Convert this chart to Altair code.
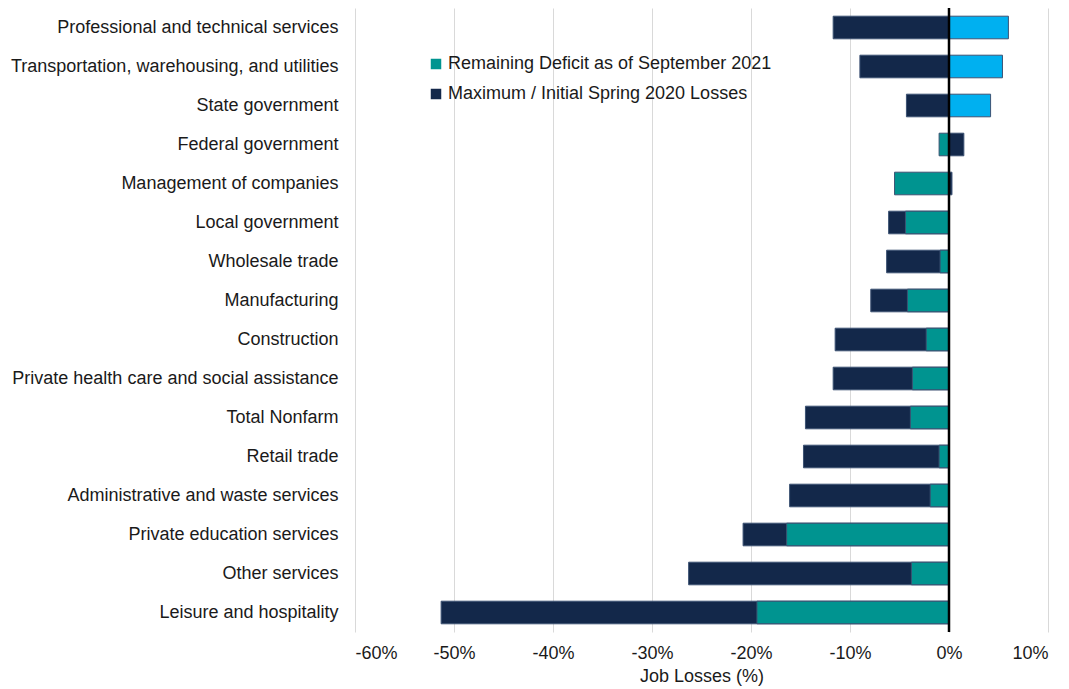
import altair as alt
import pandas as pd

categories = [
    "Professional and technical services",
    "Transportation, warehousing, and utilities",
    "State government",
    "Federal government",
    "Management of companies",
    "Local government",
    "Wholesale trade",
    "Manufacturing",
    "Construction",
    "Private health care and social assistance",
    "Total Nonfarm",
    "Retail trade",
    "Administrative and waste services",
    "Private education services",
    "Other services",
    "Leisure and hospitality",
]
max_losses = [-11.7, -9.0, -4.3, 1.5, 0.3, -6.1, -6.3, -7.9, -11.5, -11.7,
              -14.5, -14.7, -16.1, -20.8, -26.3, -51.3]
remaining = [6.0, 5.4, 4.2, -1.0, -5.5, -4.4, -0.9, -4.2, -2.3, -3.7,
             -3.9, -1.0, -1.9, -16.4, -3.8, -19.4]
x_ticks = [-60, -50, -40, -30, -20, -10, 0, 10]

S_REM = "Remaining Deficit as of September 2021"
S_MAX = "Maximum / Initial Spring 2020 Losses"
S_GAIN = "Gain"

rows = []
for c, m, r in zip(categories, max_losses, remaining):
    rows.append({"category": c, "value": m, "series": S_MAX, "layer": 0})
    rows.append({"category": c, "value": r, "series": S_REM if r < 0 else S_GAIN, "layer": 1})
df = pd.DataFrame(rows)

FONT = "Liberation Sans"
TXT = "#1a1a1a"
FS = 18

color_scale = alt.Scale(domain=[S_REM, S_MAX, S_GAIN],
                        range=["#009490", "#13284A", "#00B0F0"])

y_enc = alt.Y("category:N", sort=categories,
              scale=alt.Scale(paddingInner=0.42, paddingOuter=0.21),
              axis=alt.Axis(title=None, domain=False, ticks=False,
                            labelFont=FONT, labelFontSize=FS, labelColor=TXT,
                            labelPadding=17, labelLimit=400))
x_enc = alt.X("value:Q",
              scale=alt.Scale(domain=[-60, 10], nice=False),
              axis=alt.Axis(title="Job Losses (%)", values=x_ticks,
                            labelExpr="datum.value + '%'",
                            domain=False, ticks=False, grid=True,
                            gridColor="#d9d9d9", gridWidth=1,
                            labelFont=FONT, labelFontSize=FS, labelColor=TXT,
                            labelPadding=12,
                            titleFont=FONT, titleFontSize=FS, titleColor=TXT,
                            titleFontWeight="normal", titlePadding=5))

base = alt.Chart(df)

max_bars = base.transform_filter(alt.datum.layer == 0).mark_bar(
    stroke="#3c5273", strokeWidth=1
).encode(
    y=y_enc, x=x_enc, x2=alt.datum(0),
    color=alt.Color("series:N", scale=color_scale,
                    legend=alt.Legend(values=[S_REM, S_MAX], title=None,
                                      orient="none", legendX=72, legendY=47,
                                      symbolType="square", symbolSize=110,
                                      symbolStrokeWidth=0,
                                      labelFont=FONT, labelFontSize=FS,
                                      labelColor=TXT, rowPadding=12,
                                      labelOffset=3, labelLimit=500)),
)

rem_bars = base.transform_filter(alt.datum.layer == 1).mark_bar(
    stroke="#3c5273", strokeWidth=1
).encode(
    y=y_enc, x=x_enc, x2=alt.datum(0),
    color=alt.Color("series:N", scale=color_scale),
)

zero = alt.Chart(pd.DataFrame({"v": [0]})).mark_rule(
    color="#000000", strokeWidth=2.5
).encode(x=alt.X("v:Q", scale=alt.Scale(domain=[-60, 10], nice=False)))

chart = alt.layer(max_bars, rem_bars, zero).properties(
    width=693, height=624,
    autosize=alt.AutoSizeParams(type="none"),
    padding={"left": 347, "top": 0, "right": 5, "bottom": 56},
).configure_view(stroke=None)

chart.save("out.html", embed_options={"renderer": "svg", "actions": False})
